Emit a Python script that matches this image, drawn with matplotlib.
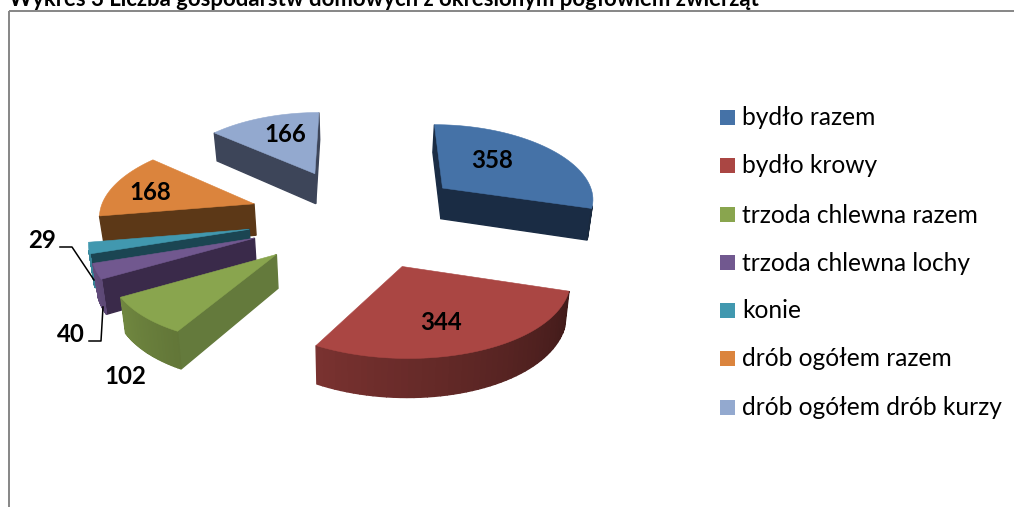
import numpy as np
import matplotlib
matplotlib.use("Agg")
import matplotlib.pyplot as plt
from matplotlib.patches import Polygon, Rectangle

# ---- data ----
categories = ["bydło razem", "bydło krowy", "trzoda chlewna razem", "trzoda chlewna lochy",
              "konie", "drób ogółem razem", "drób ogółem drób kurzy"]
values = [358, 344, 102, 40, 29, 168, 166]
title = "Wykres 3 Liczba gospodarstw domowych z określonym pogłowiem zwierząt"

# ---- style / layout ----
top_colors = ["#4572A7", "#AA4643", "#89A54E", "#71588F", "#4198AF", "#DB843D", "#93A9CF"]
side_colors = ["#1A2C44", "#431A18", "#647A3C", "#3A2A4A", "#1B4552", "#5C3817", "#3D4559"]
label_pos = [(492, 160), (441, 322), (125, 376), (71, 334), (42, 241), (150, 192), (285, 134)]
draw_order = [6, 0, 5, 4, 3, 1, 2]
CX, CY, A, B, PERSP_X, PERSP_Y, EXPLODE_X, EXPLODE_Y, DEPTH = 358, 217, 155, 74, 0.111, 0.09, 0.71, 0.68, 32

fig = plt.figure(figsize=(10.14, 5.07), dpi=100)
ax = fig.add_axes([0, 0, 1, 1])
ax.set_xlim(0, 1014)
ax.set_ylim(507, 0)
ax.axis("off")
plt.rcParams["font.family"] = ["Lato", "DejaVu Sans"]


def project(X, Y, lower=False):
    p = 1 / (1 + PERSP_X * Y)
    x = CX + A * X * p
    y = CY - B * Y / (1 + PERSP_Y * Y)
    if lower:
        x = CX + (x - CX) * 0.98
        y = y + DEPTH * p
    return np.column_stack([x, y])


def signed_area(pts):
    x, y = pts[:, 0], pts[:, 1]
    return 0.5 * np.sum(x * np.roll(y, -1) - np.roll(x, -1) * y)


def rim_shade(theta_deg):
    return np.clip(0.38 + (theta_deg - 107) * 0.0033, 0.3, 0.95)


vals = np.array(values, dtype=float)
edges = np.concatenate([[0], np.cumsum(vals)]) / vals.sum() * 2 * np.pi

# frame
frame_kw = dict(color="#868686", lw=1.4, solid_capstyle="butt")
ax.plot([9.2, 9.2], [507, 10.5], **frame_kw)
ax.plot([8.7, 1014], [10.5, 10.5], **frame_kw)

ax.text(9, 5.5, title, fontsize=15.9, fontweight="bold", color="black", va="baseline", ha="left")

for i in draw_order:
    t0, t1 = edges[i], edges[i + 1]
    mid = 0.5 * (t0 + t1)
    ox, oy = EXPLODE_X * np.sin(mid), EXPLODE_Y * np.cos(mid)
    th = np.linspace(t0, t1, 50)
    wx = np.concatenate([[ox], ox + np.sin(th)])
    wy = np.concatenate([[oy], oy + np.cos(th)])
    top = project(wx, wy)
    low = project(wx, wy, lower=True)
    orient = np.sign(signed_area(top))
    rgb = np.array(matplotlib.colors.to_rgb(top_colors[i]))
    n = len(wx)
    faces = []
    for a in range(n):
        b = (a + 1) % n
        quad = np.array([top[a], top[b], low[b], low[a]])
        if np.sign(signed_area(quad)) == orient:
            continue
        if a == 0 or b == 0:
            c = side_colors[i]
        else:
            c = tuple(rgb * rim_shade(np.degrees(th[a - 1])))
        faces.append((0 if (a == 0 or b == 0) else 1, quad, c))
    for _, quad, c in sorted(faces, key=lambda f: f[0]):
        ax.add_patch(Polygon(quad, closed=True, facecolor=c, edgecolor=c, lw=1.0, zorder=2))
    ax.add_patch(Polygon(top, closed=True, facecolor=top_colors[i], edgecolor=top_colors[i], lw=0.4, zorder=2))

# leader lines
ax.plot([60, 72, 94], [247, 247, 280], color="black", lw=1.1, zorder=3)
ax.plot([89, 101, 103], [341, 341, 307], color="black", lw=1.1, zorder=3)

# data labels
for v, (x, y) in zip(values, label_pos):
    ax.text(x, y, str(v), fontsize=17.3, fontweight="bold", color="black",
            ha="center", va="center", zorder=4)

# legend
legend_y = [117, 165, 214.5, 262.5, 310, 358, 407]
for name, col, y in zip(categories, top_colors, legend_y):
    ax.add_patch(Rectangle((720, y - 7.5), 15, 15, facecolor=col, edgecolor="none", zorder=3))
    ax.text(742, y + 0.8, name, fontsize=17.65, color="black", ha="left", va="center", zorder=3)

fig.savefig("out.png", dpi=100)
